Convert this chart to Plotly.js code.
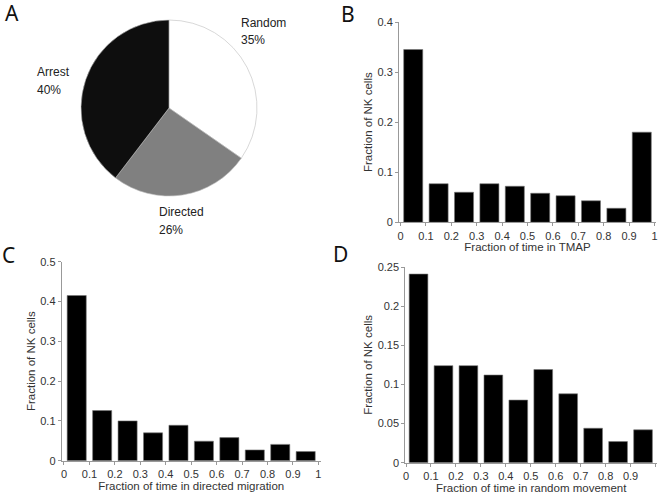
<!DOCTYPE html>
<html>
<head>
<meta charset="utf-8">
<script src="https://cdn.plot.ly/plotly-3.0.1.min.js"></script>
<style>
	html, body { margin: 0; padding: 0; background: white; }
	#chart { width: 658px; height: 494px; }
</style>
</head>
<body>
<div id="chart"></div>
<script>
// pie (panel A)
const pieLabels = ["Random", "Directed", "Arrest"]
const piePercents = [35, 26, 40]
const pieColors = ["#ffffff", "#808080", "#0e0e0e"]

// histograms (panels B, C, D)
const binCenters = [0.05, 0.15, 0.25, 0.35, 0.45, 0.55, 0.65, 0.75, 0.85, 0.95]
const tmapFrac = [0.345, 0.077, 0.060, 0.077, 0.072, 0.058, 0.053, 0.043, 0.028, 0.180]
const directedFrac = [0.415, 0.126, 0.100, 0.070, 0.089, 0.049, 0.058, 0.027, 0.041, 0.023]
const randomFrac = [0.241, 0.124, 0.124, 0.112, 0.080, 0.119, 0.088, 0.044, 0.027, 0.042]

const W = 658, H = 494
function px(x) { return x / W }
function py(y) { return 1 - y / H }

const tickFont = { family: "Liberation Sans, Arial, sans-serif", size: 11, color: "#333" }
const titleFont = { family: "Liberation Sans, Arial, sans-serif", size: 11.5, color: "#333" }

function barTrace(y, xa, ya) {
	return {
		type: "bar",
		x: binCenters,
		y: y,
		xaxis: xa,
		yaxis: ya,
		width: 0.075,
		marker: { color: "#000", line: { color: "#777", width: 0.6 } },
		hoverinfo: "none"
	}
}

var data = [
	{
		type: "pie",
		labels: pieLabels,
		values: piePercents,
		sort: false,
		direction: "clockwise",
		rotation: 0,
		textinfo: "none",
		marker: { colors: pieColors, line: { color: "#bdbdbd", width: 0.6 } },
		domain: { x: [px(81), px(257)], y: [py(196), py(20)] },
		hoverinfo: "none",
		showlegend: false
	},
	barTrace(tmapFrac, "x", "y"),
	barTrace(directedFrac, "x2", "y2"),
	barTrace(randomFrac, "x3", "y3")
]

function xAxis(domain, range, title, anchor) {
	return {
		domain: domain,
		range: range,
		anchor: anchor,
		dtick: 0.1,
		tick0: 0,
		ticks: "outside",
		ticklen: 3,
		tickcolor: "#999",
		showline: true,
		linecolor: "#999",
		linewidth: 1,
		showgrid: false,
		zeroline: false,
		tickfont: tickFont,
		title: { text: title, font: titleFont, standoff: 2 },
		fixedrange: true
	}
}

function yAxis(domain, range, dtick, anchor) {
	return {
		domain: domain,
		range: range,
		anchor: anchor,
		dtick: dtick,
		tick0: 0,
		ticks: "outside",
		ticklen: 3,
		tickcolor: "#999",
		showline: true,
		linecolor: "#999",
		linewidth: 1,
		showgrid: false,
		zeroline: false,
		tickfont: tickFont,
		title: { text: "Fraction of NK cells", font: titleFont, standoff: 2 },
		fixedrange: true
	}
}

// panel letters and pie labels
var annotations = []
const letterFont = { family: "Noto Sans, sans-serif", size: 21, color: "#111" }
const letters = [["A", 3, -3], ["B", 339, -2], ["C", 0, 239], ["D", 331, 238]]
for (var l of letters)
{
	annotations.push({
		text: l[0], xref: "paper", yref: "paper", x: px(l[1]), y: py(l[2]),
		xanchor: "left", yanchor: "top", showarrow: false, font: letterFont
	})
}

const pieTextFont = { family: "Liberation Sans, Arial, sans-serif", size: 12, color: "#222" }
// left edge, centre of first line, centre of second line (px)
const pieLabelPos = [[239, 22.5, 40], [157, 212, 229.5], [35, 72, 90]]
for (var i = 0; i < pieLabels.length; ++i)
{
	var p = pieLabelPos[i]
	annotations.push({
		text: pieLabels[i], xref: "paper", yref: "paper", x: px(p[0]), y: py(p[1]),
		xanchor: "left", yanchor: "middle", showarrow: false, font: pieTextFont
	})
	annotations.push({
		text: piePercents[i] + "%", xref: "paper", yref: "paper", x: px(p[0]), y: py(p[2]),
		xanchor: "left", yanchor: "middle", showarrow: false, font: pieTextFont
	})
}

var layout = {
	width: W,
	height: H,
	margin: { l: 0, r: 0, t: 0, b: 0, pad: 0 },
	paper_bgcolor: "white",
	plot_bgcolor: "white",
	showlegend: false,
	bargap: 0.25,
	xaxis: xAxis([px(399), px(656)], [-0.006, 1.006], "Fraction of time in TMAP", "y"),
	yaxis: yAxis([py(222.3), py(22)], [0, 0.4], 0.1, "x"),
	xaxis2: xAxis([px(61.7), px(320.7)], [-0.009, 1.009], "Fraction of time in directed migration", "y2"),
	yaxis2: yAxis([py(460.7), py(261.7)], [0, 0.5], 0.1, "x2"),
	xaxis3: xAxis([px(405.3), px(657)], [-0.003, 1.006], "Fraction of time in random movement", "y3"),
	yaxis3: yAxis([py(462.7), py(267)], [0, 0.25], 0.05, "x3"),
	annotations: annotations
}

var config = { displayModeBar: false, staticPlot: true }

Plotly.newPlot("chart", data, layout, config)
</script>
</body>
</html>
